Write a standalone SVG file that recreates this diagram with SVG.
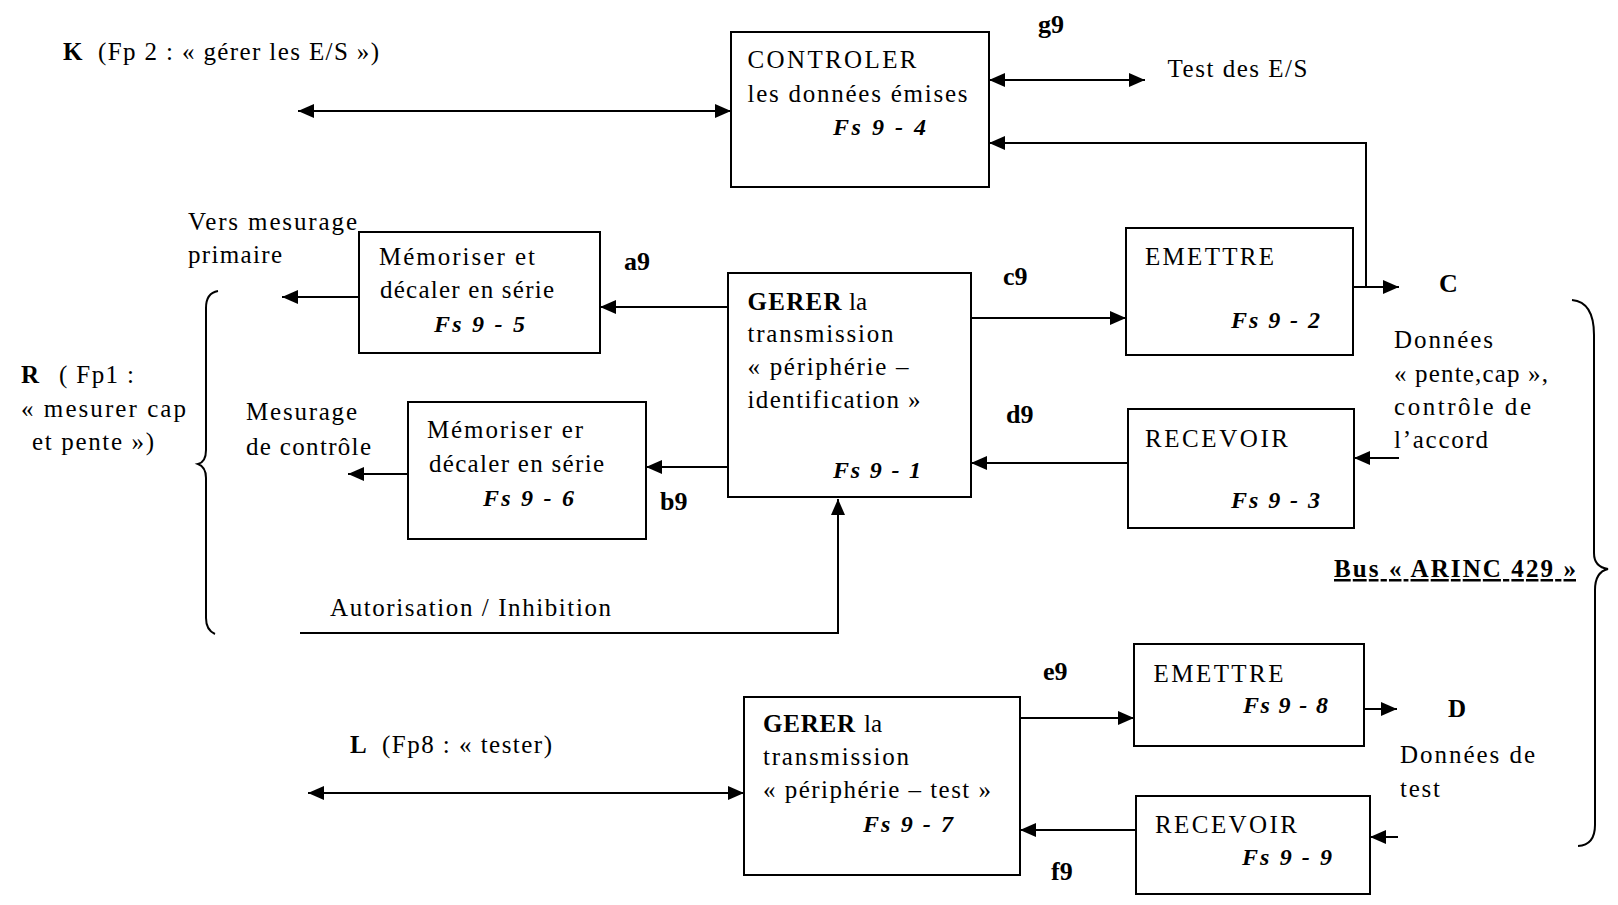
<svg xmlns="http://www.w3.org/2000/svg" width="1618" height="905" viewBox="0 0 1618 905">
<style>
.t{font-family:"Liberation Serif","Times New Roman",serif;font-size:25px;fill:#000}
.b{font-weight:bold}
.bi{font-weight:bold;font-style:italic;font-size:24px}
.lbl{font-weight:bold;font-size:26px}
.box{fill:#fff;stroke:#000;stroke-width:2}
.ln{fill:none;stroke:#000;stroke-width:2}
.arr{fill:none;stroke:#000;stroke-width:2;marker-end:url(#ah)}
.darr{fill:none;stroke:#000;stroke-width:2;marker-end:url(#ah);marker-start:url(#ah)}
</style>
<defs>
<marker id="ah" viewBox="0 0 16 14" refX="16" refY="7" markerWidth="16" markerHeight="14" markerUnits="userSpaceOnUse" orient="auto-start-reverse">
<path d="M0,0 L16,7 L0,14 z" fill="#000"/>
</marker>
</defs>
<rect width="1618" height="905" fill="#fff"/>

<g id="connectors">
<line class="darr" x1="298" y1="111" x2="731" y2="111"/>
<line class="darr" x1="989" y1="80" x2="1145" y2="80"/>
<polyline class="arr" points="1366,287 1366,143 989,143"/>
<line class="arr" x1="1353" y1="287" x2="1399" y2="287"/>
<line class="arr" x1="728" y1="307" x2="600" y2="307"/>
<line class="arr" x1="359" y1="297" x2="282" y2="297"/>
<line class="arr" x1="971" y1="318" x2="1126" y2="318"/>
<line class="arr" x1="1128" y1="463" x2="971" y2="463"/>
<line class="arr" x1="1399" y1="458" x2="1354" y2="458"/>
<line class="arr" x1="728" y1="467" x2="646" y2="467"/>
<line class="arr" x1="408" y1="474" x2="348" y2="474"/>
<polyline class="arr" points="300,633 838,633 838,499"/>
<line class="darr" x1="308" y1="793" x2="744" y2="793"/>
<line class="arr" x1="1020" y1="718" x2="1134" y2="718"/>
<line class="arr" x1="1364" y1="709" x2="1397" y2="709"/>
<line class="arr" x1="1136" y1="830" x2="1020" y2="830"/>
<line class="arr" x1="1398" y1="837" x2="1370" y2="837"/>
</g>

<g id="brace-R">
<path class="ln" d="M218,291 Q206,293 206,308 L206,450 Q206,462 198,464 Q206,467 206,478 L206,618 Q206,630 215,634"/>
</g>
<g id="brace-bus">
<path class="ln" d="M1572,300 Q1594,302 1594,335 L1594,553 Q1594,567 1608,569 Q1595,572 1595,590 L1595,825 Q1595,845 1578,846"/>
</g>

<g id="label-K">
<text class="t b" x="63" y="60">K</text>
<text class="t" x="98" y="60" textLength="281">(Fp 2 : « gérer les E/S »)</text>
</g>

<g id="node-fs9-4">
<rect class="box" x="731" y="32" width="258" height="155"/>
<text class="t" x="747.5" y="68" textLength="169">CONTROLER</text>
<text class="t" x="747.5" y="102" textLength="220">les données émises</text>
<text class="t bi" x="833" y="135" textLength="93">Fs 9 - 4</text>
</g>
<g id="label-g9"><text class="t lbl" x="1038" y="33">g9</text></g>
<g id="label-test-es"><text class="t" x="1167.5" y="77" textLength="140">Test des E/S</text></g>

<g id="label-vers">
<text class="t" x="188" y="230" textLength="169">Vers mesurage</text>
<text class="t" x="188" y="263" textLength="94">primaire</text>
</g>

<g id="node-fs9-5">
<rect class="box" x="359" y="232" width="241" height="121"/>
<text class="t" x="379" y="265" textLength="156">Mémoriser et</text>
<text class="t" x="380" y="298" textLength="174">décaler en série</text>
<text class="t bi" x="434" y="332" textLength="91">Fs 9 - 5</text>
</g>
<g id="label-a9"><text class="t lbl" x="624" y="270">a9</text></g>

<g id="node-fs9-1">
<rect class="box" x="728" y="273" width="243" height="224"/>
<text class="t b" x="747.5" y="310" textLength="94">GERER</text>
<text class="t" x="849" y="310">la</text>
<text class="t" x="747.5" y="342" textLength="146">transmission</text>
<text class="t" x="747.5" y="375" textLength="161">« périphérie –</text>
<text class="t" x="747.5" y="408" textLength="173">identification »</text>
<text class="t bi" x="833" y="478" textLength="88">Fs 9 - 1</text>
</g>
<g id="label-c9"><text class="t lbl" x="1003" y="285">c9</text></g>
<g id="label-d9"><text class="t lbl" x="1006" y="423">d9</text></g>

<g id="node-fs9-2">
<rect class="box" x="1126" y="228" width="227" height="127"/>
<text class="t" x="1145" y="265" textLength="129">EMETTRE</text>
<text class="t bi" x="1231" y="328" textLength="89">Fs 9 - 2</text>
</g>
<g id="label-C"><text class="t b" x="1439" y="292" style="font-size:26px">C</text></g>
<g id="label-donnees-c">
<text class="t" x="1394" y="348" textLength="99">Données</text>
<text class="t" x="1394" y="382" textLength="154">« pente,cap »,</text>
<text class="t" x="1394" y="415" textLength="137">contrôle  de</text>
<text class="t" x="1394" y="448" textLength="94">l’accord</text>
</g>

<g id="node-fs9-3">
<rect class="box" x="1128" y="409" width="226" height="119"/>
<text class="t" x="1145" y="447" textLength="143">RECEVOIR</text>
<text class="t bi" x="1231" y="508" textLength="89">Fs 9 - 3</text>
</g>

<g id="label-R">
<text class="t b" x="21" y="383">R</text>
<text class="t" x="59" y="383" textLength="75">( Fp1 :</text>
<text class="t" x="21" y="417" textLength="165">« mesurer cap</text>
<text class="t" x="32" y="450" textLength="122">et pente »)</text>
</g>

<g id="label-mesurage">
<text class="t" x="246" y="420" textLength="111">Mesurage</text>
<text class="t" x="246" y="455" textLength="125">de contrôle</text>
</g>

<g id="node-fs9-6">
<rect class="box" x="408" y="402" width="238" height="137"/>
<text class="t" x="427" y="438" textLength="156">Mémoriser er</text>
<text class="t" x="429" y="472" textLength="175">décaler en série</text>
<text class="t bi" x="483" y="506" textLength="91">Fs 9 - 6</text>
</g>
<g id="label-b9"><text class="t lbl" x="660" y="510">b9</text></g>

<g id="label-autorisation"><text class="t" x="330" y="616" textLength="281">Autorisation / Inhibition</text></g>

<g id="label-bus"><text class="t b" x="1334" y="577" textLength="242" text-decoration="underline">Bus « ARINC 429 »</text></g>

<g id="label-L">
<text class="t b" x="350" y="753">L</text>
<text class="t" x="382" y="753" textLength="170">(Fp8 : « tester)</text>
</g>

<g id="node-fs9-7">
<rect class="box" x="744" y="697" width="276" height="178"/>
<text class="t b" x="763" y="732" textLength="92">GERER</text>
<text class="t" x="864" y="732">la</text>
<text class="t" x="763" y="765" textLength="146">transmission</text>
<text class="t" x="763" y="798" textLength="228">« périphérie – test »</text>
<text class="t bi" x="863" y="832" textLength="90">Fs 9 - 7</text>
</g>
<g id="label-e9"><text class="t lbl" x="1043" y="680">e9</text></g>
<g id="label-f9"><text class="t lbl" x="1051" y="880">f9</text></g>

<g id="node-fs9-8">
<rect class="box" x="1134" y="644" width="230" height="102"/>
<text class="t" x="1153.5" y="682" textLength="130">EMETTRE</text>
<text class="t bi" x="1243" y="713" textLength="85">Fs 9 - 8</text>
</g>
<g id="label-D"><text class="t b" x="1448" y="717">D</text></g>
<g id="label-donnees-d">
<text class="t" x="1400" y="763" textLength="135">Données de</text>
<text class="t" x="1400" y="797" textLength="40">test</text>
</g>

<g id="node-fs9-9">
<rect class="box" x="1136" y="796" width="234" height="98"/>
<text class="t" x="1155" y="833" textLength="142">RECEVOIR</text>
<text class="t bi" x="1242" y="865" textLength="90">Fs 9 - 9</text>
</g>
</svg>
